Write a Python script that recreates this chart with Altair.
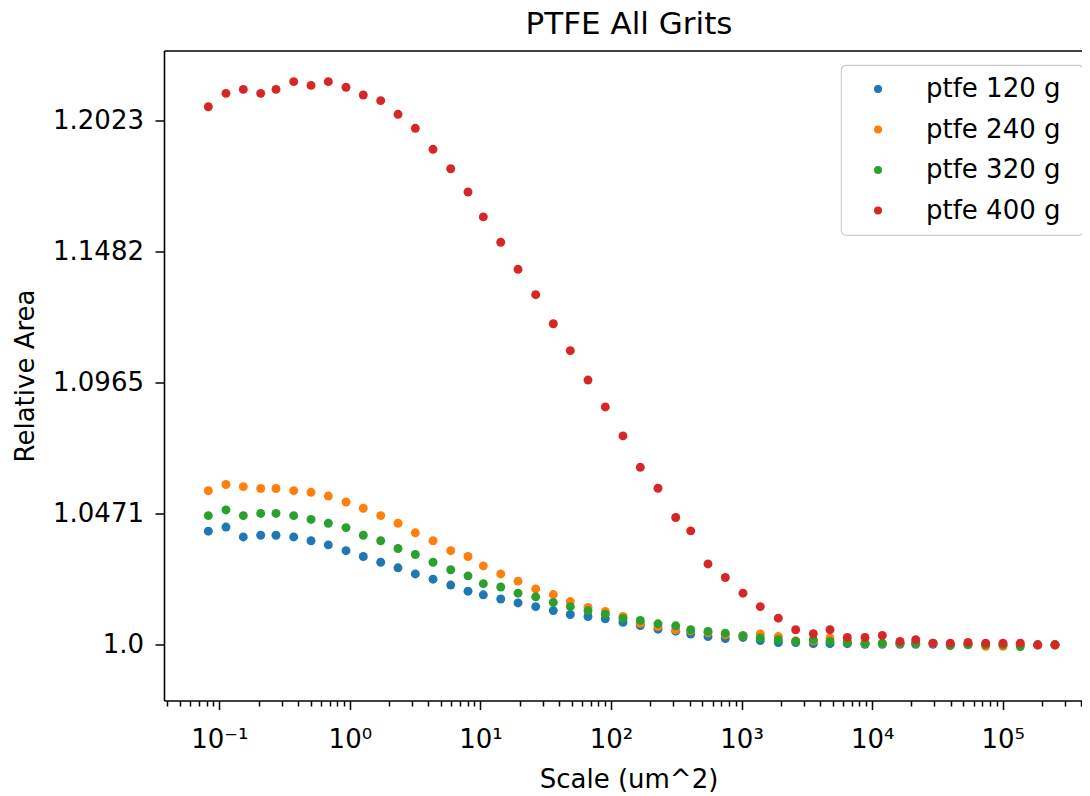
import altair as alt
import pandas as pd

# ---- data ----
scale_um2 = [0.0824, 0.1125, 0.1527, 0.2075, 0.2717, 0.3713, 0.5040, 0.6837, 0.9342, 1.267,
             1.722, 2.337, 3.171, 4.333, 5.920, 8.030, 10.52, 14.30, 19.40, 26.50,
             36.14, 48.78, 66.64, 90.43, 123.5, 167.6, 229.0, 312.9, 407.7, 553.1,
             750.5, 1025, 1391, 1911, 2597, 3543, 4755, 6451, 8817, 11960,
             16340, 21560, 29240, 39670, 54220, 74060, 100500, 136300, 185300, 251400]

ptfe_120 = [1.0407, 1.0422, 1.0386, 1.0392, 1.0392, 1.0386, 1.0372, 1.0357, 1.0336, 1.0315,
            1.0294, 1.0274, 1.0252, 1.0233, 1.0212, 1.0190, 1.0177, 1.0162, 1.0148, 1.0135,
            1.0121, 1.0107, 1.0100, 1.0092, 1.0079, 1.0068, 1.0055, 1.0048, 1.0038, 1.0029,
            1.0022, 1.0026, 1.0015, 1.0008, 1.0008, 1.0004, 1.0004, 1.0004, 1.0002, 1.0002,
            1.0002, 1.0002, 1.0002, 1.0000, 1.0000, 1.0000, 1.0000, 1.0000, 1.0000, 1.0000]

ptfe_240 = [1.0556, 1.0579, 1.0571, 1.0564, 1.0564, 1.0556, 1.0550, 1.0536, 1.0514, 1.0491,
            1.0464, 1.0436, 1.0401, 1.0372, 1.0336, 1.0315, 1.0281, 1.0252, 1.0226, 1.0198,
            1.0178, 1.0153, 1.0132, 1.0118, 1.0100, 1.0076, 1.0064, 1.0053, 1.0049, 1.0042,
            1.0035, 1.0032, 1.0038, 1.0029, 1.0014, 1.0014, 1.0024, 1.0011, 1.0005, 1.0005,
            1.0005, 1.0005, 1.0005, 1.0002, 1.0001, 0.9995, 0.9995, 0.9999, 0.9999, 0.9999]

ptfe_320 = [1.0464, 1.0485, 1.0464, 1.0472, 1.0472, 1.0464, 1.0450, 1.0436, 1.0420, 1.0392,
            1.0372, 1.0344, 1.0322, 1.0294, 1.0267, 1.0245, 1.0217, 1.0205, 1.0183, 1.0170,
            1.0150, 1.0135, 1.0120, 1.0108, 1.0093, 1.0086, 1.0074, 1.0067, 1.0053, 1.0047,
            1.0041, 1.0032, 1.0024, 1.0018, 1.0012, 1.0018, 1.0012, 1.0008, 1.0006, 1.0006,
            1.0006, 1.0006, 1.0006, 0.9997, 1.0001, 1.0001, 1.0001, 0.9994, 1.0000, 1.0000]

ptfe_400 = [1.2079, 1.2136, 1.2153, 1.2136, 1.2153, 1.2186, 1.2170, 1.2186, 1.2162, 1.2129,
            1.2105, 1.2047, 1.1988, 1.1900, 1.1819, 1.1723, 1.1621, 1.1518, 1.1409, 1.1308,
            1.1193, 1.1088, 1.0974, 1.0871, 1.0761, 1.0643, 1.0565, 1.0457, 1.0408, 1.0288,
            1.0239, 1.0183, 1.0135, 1.0094, 1.0053, 1.0039, 1.0053, 1.0026, 1.0026, 1.0033,
            1.0012, 1.0018, 1.0006, 1.0006, 1.0008, 1.0006, 1.0006, 1.0006, 1.0000, 1.0000]

series_names = ["ptfe 120 g", "ptfe 240 g", "ptfe 320 g", "ptfe 400 g"]
series_colors = ["#1f77b4", "#ff7f0e", "#2ca02c", "#d62728"]

x_major = [0.1, 1, 10, 100, 1000, 10000, 100000]
x_exponents = [-1, 0, 1, 2, 3, 4, 5]
x_labels = ["10\u207b\u00b9", "10\u2070", "10\u00b9", "10\u00b2", "10\u00b3", "10\u2074", "10\u2075"]
x_minor = [m * 10.0 ** k for k in range(-2, 6) for m in range(2, 10)
           if 0.0377 < m * 10.0 ** k < 404000]
y_ticks = [1.0, 1.0471, 1.0965, 1.1482, 1.2023]

x_domain = [0.03771, 404800]
y_domain = [0.98064, 1.2320]

rows = []
for i, (name, vals) in enumerate(zip(series_names, [ptfe_120, ptfe_240, ptfe_320, ptfe_400])):
    for xv, yv in zip(scale_um2, vals):
        rows.append({"scale": xv, "area": yv, "series": name, "ord": i})
df = pd.DataFrame(rows)

x_expr = "".join(
    f"round(log(datum.value)/LN10) == {e} ? '{lab}' : " for e, lab in zip(x_exponents, x_labels)
) + "''"

FONT = "DejaVu Sans"
x_scale = alt.Scale(type="log", domain=x_domain, nice=False)
y_scale = alt.Scale(type="log", domain=y_domain, nice=False)

base = alt.Chart(df)

points = base.mark_circle(size=80, opacity=1).encode(
    x=alt.X("scale:Q", scale=x_scale,
            axis=alt.Axis(orient="bottom", values=x_major, labelExpr=x_expr,
                          title="Scale (um^2)", tickSize=9, labelPadding=17,
                          titleX=464.5, titleY=66, titleBaseline="top",
                          labelFlush=False, labelOverlap=False)),
    y=alt.Y("area:Q", scale=y_scale,
            axis=alt.Axis(values=y_ticks,
                          labelExpr="datum.value == 1 ? '1.0' : format(datum.value, '.4f')",
                          title="Relative Area", tickSize=9, labelPadding=11.5,
                          titlePadding=14, labelFlush=False, labelOverlap=False)),
    color=alt.Color("series:N",
                    scale=alt.Scale(domain=series_names, range=series_colors),
                    legend=alt.Legend(orient="none", legendX=677, legendY=14.5,
                                      title="\u2002", titleOrient="right", titlePadding=11,
                                      titleFontSize=2)),
    order=alt.Order("ord:Q"),
)

minor = base.mark_point(opacity=0).encode(
    x=alt.X("scale:Q", scale=x_scale,
            axis=alt.Axis(orient="bottom", values=x_minor, labels=False, tickSize=5.5,
                          domain=False, title=""))
)

top = base.mark_point(opacity=0).encode(
    x=alt.X("scale:Q", scale=x_scale,
            axis=alt.Axis(orient="top", ticks=False, labels=False, domain=True, title=""))
)

chart = (
    alt.layer(points, minor, top)
    .resolve_axis(x="independent")
    .properties(
        width=918,
        height=650,
        title=alt.TitleParams("PTFE All Grits", anchor="middle", dx=6, offset=10),
        autosize=alt.AutoSizeParams(type="none"),
        padding={"left": 156, "top": 42.5, "right": 0, "bottom": 95},
    )
    .configure_view(stroke="transparent")
    .configure_axis(
        labelFont=FONT, titleFont=FONT, labelFontSize=26, titleFontSize=26,
        titleFontWeight="normal", labelColor="black", titleColor="black",
        domainColor="black", tickColor="black", domainWidth=1.6, tickWidth=1.5,
        grid=False,
    )
    .configure_legend(
        labelFont=FONT, labelFontSize=26, labelColor="black",
        fillColor="white", strokeColor="#cccccc", strokeWidth=1.2, cornerRadius=5,
        padding=11, symbolOffset=13, labelOffset=35, symbolSize=64,
        symbolType="circle", symbolStrokeWidth=0, symbolOpacity=1, rowPadding=14.5,
    )
    .configure_title(font=FONT, fontSize=31, fontWeight="normal", color="black")
)

chart.save("out.html", embed_options={"renderer": "svg", "actions": False})
